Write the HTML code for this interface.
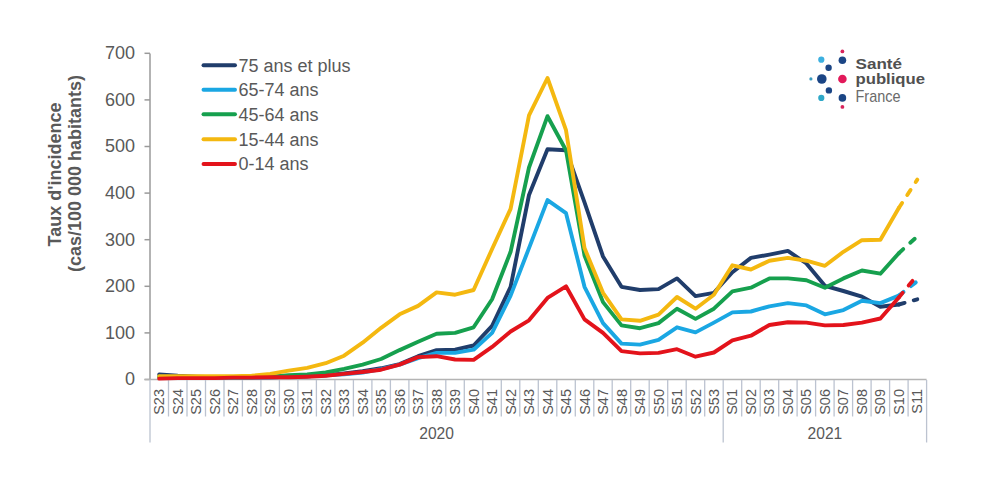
<!DOCTYPE html>
<html><head><meta charset="utf-8"><style>
html,body{margin:0;padding:0;background:#fff;width:1000px;height:480px;overflow:hidden}
svg{display:block}
text{font-family:"Liberation Sans",sans-serif}
</style></head><body>
<svg width="1000" height="480" viewBox="0 0 1000 480">
<rect width="1000" height="480" fill="#fff"/>

<line x1="150" y1="53.4" x2="150" y2="379.5" stroke="#9a9a9a" stroke-width="1.5"/>
<line x1="144.5" y1="379.5" x2="150" y2="379.5" stroke="#9a9a9a" stroke-width="1.5"/>
<text x="135" y="385.3" font-size="18" fill="#595959" text-anchor="end">0</text>
<line x1="144.5" y1="332.9" x2="150" y2="332.9" stroke="#9a9a9a" stroke-width="1.5"/>
<text x="135" y="338.7" font-size="18" fill="#595959" text-anchor="end">100</text>
<line x1="144.5" y1="286.3" x2="150" y2="286.3" stroke="#9a9a9a" stroke-width="1.5"/>
<text x="135" y="292.1" font-size="18" fill="#595959" text-anchor="end">200</text>
<line x1="144.5" y1="239.7" x2="150" y2="239.7" stroke="#9a9a9a" stroke-width="1.5"/>
<text x="135" y="245.5" font-size="18" fill="#595959" text-anchor="end">300</text>
<line x1="144.5" y1="193.1" x2="150" y2="193.1" stroke="#9a9a9a" stroke-width="1.5"/>
<text x="135" y="198.9" font-size="18" fill="#595959" text-anchor="end">400</text>
<line x1="144.5" y1="146.5" x2="150" y2="146.5" stroke="#9a9a9a" stroke-width="1.5"/>
<text x="135" y="152.3" font-size="18" fill="#595959" text-anchor="end">500</text>
<line x1="144.5" y1="99.9" x2="150" y2="99.9" stroke="#9a9a9a" stroke-width="1.5"/>
<text x="135" y="105.7" font-size="18" fill="#595959" text-anchor="end">600</text>
<line x1="144.5" y1="53.3" x2="150" y2="53.3" stroke="#9a9a9a" stroke-width="1.5"/>
<text x="135" y="59.1" font-size="18" fill="#595959" text-anchor="end">700</text>
<line x1="144.5" y1="379.5" x2="926.6" y2="379.5" stroke="#b4b4b4" stroke-width="1.5"/>
<line x1="150.0" y1="380" x2="150.0" y2="442.5" stroke="#bcc3d0" stroke-width="1.3"/>
<line x1="168.5" y1="380" x2="168.5" y2="416.5" stroke="#bcc3d0" stroke-width="1.3"/>
<line x1="187.0" y1="380" x2="187.0" y2="416.5" stroke="#bcc3d0" stroke-width="1.3"/>
<line x1="205.5" y1="380" x2="205.5" y2="416.5" stroke="#bcc3d0" stroke-width="1.3"/>
<line x1="224.0" y1="380" x2="224.0" y2="416.5" stroke="#bcc3d0" stroke-width="1.3"/>
<line x1="242.4" y1="380" x2="242.4" y2="416.5" stroke="#bcc3d0" stroke-width="1.3"/>
<line x1="260.9" y1="380" x2="260.9" y2="416.5" stroke="#bcc3d0" stroke-width="1.3"/>
<line x1="279.4" y1="380" x2="279.4" y2="416.5" stroke="#bcc3d0" stroke-width="1.3"/>
<line x1="297.9" y1="380" x2="297.9" y2="416.5" stroke="#bcc3d0" stroke-width="1.3"/>
<line x1="316.4" y1="380" x2="316.4" y2="416.5" stroke="#bcc3d0" stroke-width="1.3"/>
<line x1="334.9" y1="380" x2="334.9" y2="416.5" stroke="#bcc3d0" stroke-width="1.3"/>
<line x1="353.4" y1="380" x2="353.4" y2="416.5" stroke="#bcc3d0" stroke-width="1.3"/>
<line x1="371.9" y1="380" x2="371.9" y2="416.5" stroke="#bcc3d0" stroke-width="1.3"/>
<line x1="390.4" y1="380" x2="390.4" y2="416.5" stroke="#bcc3d0" stroke-width="1.3"/>
<line x1="408.9" y1="380" x2="408.9" y2="416.5" stroke="#bcc3d0" stroke-width="1.3"/>
<line x1="427.3" y1="380" x2="427.3" y2="416.5" stroke="#bcc3d0" stroke-width="1.3"/>
<line x1="445.8" y1="380" x2="445.8" y2="416.5" stroke="#bcc3d0" stroke-width="1.3"/>
<line x1="464.3" y1="380" x2="464.3" y2="416.5" stroke="#bcc3d0" stroke-width="1.3"/>
<line x1="482.8" y1="380" x2="482.8" y2="416.5" stroke="#bcc3d0" stroke-width="1.3"/>
<line x1="501.3" y1="380" x2="501.3" y2="416.5" stroke="#bcc3d0" stroke-width="1.3"/>
<line x1="519.8" y1="380" x2="519.8" y2="416.5" stroke="#bcc3d0" stroke-width="1.3"/>
<line x1="538.3" y1="380" x2="538.3" y2="416.5" stroke="#bcc3d0" stroke-width="1.3"/>
<line x1="556.8" y1="380" x2="556.8" y2="416.5" stroke="#bcc3d0" stroke-width="1.3"/>
<line x1="575.3" y1="380" x2="575.3" y2="416.5" stroke="#bcc3d0" stroke-width="1.3"/>
<line x1="593.8" y1="380" x2="593.8" y2="416.5" stroke="#bcc3d0" stroke-width="1.3"/>
<line x1="612.2" y1="380" x2="612.2" y2="416.5" stroke="#bcc3d0" stroke-width="1.3"/>
<line x1="630.7" y1="380" x2="630.7" y2="416.5" stroke="#bcc3d0" stroke-width="1.3"/>
<line x1="649.2" y1="380" x2="649.2" y2="416.5" stroke="#bcc3d0" stroke-width="1.3"/>
<line x1="667.7" y1="380" x2="667.7" y2="416.5" stroke="#bcc3d0" stroke-width="1.3"/>
<line x1="686.2" y1="380" x2="686.2" y2="416.5" stroke="#bcc3d0" stroke-width="1.3"/>
<line x1="704.7" y1="380" x2="704.7" y2="416.5" stroke="#bcc3d0" stroke-width="1.3"/>
<line x1="723.2" y1="380" x2="723.2" y2="442.5" stroke="#bcc3d0" stroke-width="1.3"/>
<line x1="741.7" y1="380" x2="741.7" y2="416.5" stroke="#bcc3d0" stroke-width="1.3"/>
<line x1="760.2" y1="380" x2="760.2" y2="416.5" stroke="#bcc3d0" stroke-width="1.3"/>
<line x1="778.7" y1="380" x2="778.7" y2="416.5" stroke="#bcc3d0" stroke-width="1.3"/>
<line x1="797.1" y1="380" x2="797.1" y2="416.5" stroke="#bcc3d0" stroke-width="1.3"/>
<line x1="815.6" y1="380" x2="815.6" y2="416.5" stroke="#bcc3d0" stroke-width="1.3"/>
<line x1="834.1" y1="380" x2="834.1" y2="416.5" stroke="#bcc3d0" stroke-width="1.3"/>
<line x1="852.6" y1="380" x2="852.6" y2="416.5" stroke="#bcc3d0" stroke-width="1.3"/>
<line x1="871.1" y1="380" x2="871.1" y2="416.5" stroke="#bcc3d0" stroke-width="1.3"/>
<line x1="889.6" y1="380" x2="889.6" y2="416.5" stroke="#bcc3d0" stroke-width="1.3"/>
<line x1="908.1" y1="380" x2="908.1" y2="416.5" stroke="#bcc3d0" stroke-width="1.3"/>
<line x1="926.6" y1="380" x2="926.6" y2="442.5" stroke="#bcc3d0" stroke-width="1.3"/>
<text transform="translate(164.2,389) rotate(-90)" font-size="14.5" fill="#595959" text-anchor="end">S23</text>
<text transform="translate(182.7,389) rotate(-90)" font-size="14.5" fill="#595959" text-anchor="end">S24</text>
<text transform="translate(201.2,389) rotate(-90)" font-size="14.5" fill="#595959" text-anchor="end">S25</text>
<text transform="translate(219.7,389) rotate(-90)" font-size="14.5" fill="#595959" text-anchor="end">S26</text>
<text transform="translate(238.2,389) rotate(-90)" font-size="14.5" fill="#595959" text-anchor="end">S27</text>
<text transform="translate(256.7,389) rotate(-90)" font-size="14.5" fill="#595959" text-anchor="end">S28</text>
<text transform="translate(275.2,389) rotate(-90)" font-size="14.5" fill="#595959" text-anchor="end">S29</text>
<text transform="translate(293.7,389) rotate(-90)" font-size="14.5" fill="#595959" text-anchor="end">S30</text>
<text transform="translate(312.2,389) rotate(-90)" font-size="14.5" fill="#595959" text-anchor="end">S31</text>
<text transform="translate(330.7,389) rotate(-90)" font-size="14.5" fill="#595959" text-anchor="end">S32</text>
<text transform="translate(349.1,389) rotate(-90)" font-size="14.5" fill="#595959" text-anchor="end">S33</text>
<text transform="translate(367.6,389) rotate(-90)" font-size="14.5" fill="#595959" text-anchor="end">S34</text>
<text transform="translate(386.1,389) rotate(-90)" font-size="14.5" fill="#595959" text-anchor="end">S35</text>
<text transform="translate(404.6,389) rotate(-90)" font-size="14.5" fill="#595959" text-anchor="end">S36</text>
<text transform="translate(423.1,389) rotate(-90)" font-size="14.5" fill="#595959" text-anchor="end">S37</text>
<text transform="translate(441.6,389) rotate(-90)" font-size="14.5" fill="#595959" text-anchor="end">S38</text>
<text transform="translate(460.1,389) rotate(-90)" font-size="14.5" fill="#595959" text-anchor="end">S39</text>
<text transform="translate(478.6,389) rotate(-90)" font-size="14.5" fill="#595959" text-anchor="end">S40</text>
<text transform="translate(497.1,389) rotate(-90)" font-size="14.5" fill="#595959" text-anchor="end">S41</text>
<text transform="translate(515.6,389) rotate(-90)" font-size="14.5" fill="#595959" text-anchor="end">S42</text>
<text transform="translate(534.0,389) rotate(-90)" font-size="14.5" fill="#595959" text-anchor="end">S43</text>
<text transform="translate(552.5,389) rotate(-90)" font-size="14.5" fill="#595959" text-anchor="end">S44</text>
<text transform="translate(571.0,389) rotate(-90)" font-size="14.5" fill="#595959" text-anchor="end">S45</text>
<text transform="translate(589.5,389) rotate(-90)" font-size="14.5" fill="#595959" text-anchor="end">S46</text>
<text transform="translate(608.0,389) rotate(-90)" font-size="14.5" fill="#595959" text-anchor="end">S47</text>
<text transform="translate(626.5,389) rotate(-90)" font-size="14.5" fill="#595959" text-anchor="end">S48</text>
<text transform="translate(645.0,389) rotate(-90)" font-size="14.5" fill="#595959" text-anchor="end">S49</text>
<text transform="translate(663.5,389) rotate(-90)" font-size="14.5" fill="#595959" text-anchor="end">S50</text>
<text transform="translate(682.0,389) rotate(-90)" font-size="14.5" fill="#595959" text-anchor="end">S51</text>
<text transform="translate(700.5,389) rotate(-90)" font-size="14.5" fill="#595959" text-anchor="end">S52</text>
<text transform="translate(718.9,389) rotate(-90)" font-size="14.5" fill="#595959" text-anchor="end">S53</text>
<text transform="translate(737.4,389) rotate(-90)" font-size="14.5" fill="#595959" text-anchor="end">S01</text>
<text transform="translate(755.9,389) rotate(-90)" font-size="14.5" fill="#595959" text-anchor="end">S02</text>
<text transform="translate(774.4,389) rotate(-90)" font-size="14.5" fill="#595959" text-anchor="end">S03</text>
<text transform="translate(792.9,389) rotate(-90)" font-size="14.5" fill="#595959" text-anchor="end">S04</text>
<text transform="translate(811.4,389) rotate(-90)" font-size="14.5" fill="#595959" text-anchor="end">S05</text>
<text transform="translate(829.9,389) rotate(-90)" font-size="14.5" fill="#595959" text-anchor="end">S06</text>
<text transform="translate(848.4,389) rotate(-90)" font-size="14.5" fill="#595959" text-anchor="end">S07</text>
<text transform="translate(866.9,389) rotate(-90)" font-size="14.5" fill="#595959" text-anchor="end">S08</text>
<text transform="translate(885.4,389) rotate(-90)" font-size="14.5" fill="#595959" text-anchor="end">S09</text>
<text transform="translate(903.8,389) rotate(-90)" font-size="14.5" fill="#595959" text-anchor="end">S10</text>
<text transform="translate(922.3,389) rotate(-90)" font-size="14.5" fill="#595959" text-anchor="end">S11</text>
<text x="436.6" y="439.2" font-size="15.6" fill="#595959" text-anchor="middle">2020</text>
<text x="824.9" y="439.2" font-size="15.6" fill="#595959" text-anchor="middle">2021</text>
<text transform="translate(60.5,174.5) rotate(-90)" font-size="18" font-weight="bold" fill="#595959" text-anchor="middle">Taux d'incidence</text>
<text transform="translate(80.5,173.5) rotate(-90)" font-size="18" font-weight="bold" fill="#595959" text-anchor="middle">(cas/100 000 habitants)</text>
<polyline points="159.2,374.4 177.7,375.8 196.2,376.7 214.7,377.2 233.2,377.2 251.7,377.2 270.2,377.2 288.7,376.7 307.2,376.2 325.7,375.3 344.1,373.4 362.6,371.1 381.1,368.3 399.6,364.1 418.1,356.2 436.6,350.1 455.1,349.7 473.6,345.5 492.1,325.9 510.6,286.8 529.0,195.0 547.5,149.3 566.0,150.2 584.5,202.4 603.0,256.5 621.5,286.8 640.0,290.0 658.5,289.1 677.0,278.4 695.5,296.1 713.9,292.8 732.4,272.3 750.9,257.9 769.4,254.6 787.9,250.9 806.4,263.5 824.9,285.8 843.4,291.0 861.9,296.6 880.4,306.8 898.8,304.5" fill="none" stroke="#203D6B" stroke-width="3.9" stroke-linejoin="round" stroke-linecap="round"/>
<line x1="898.8" y1="304.5" x2="917.3" y2="299.3" stroke="#203D6B" stroke-width="3.9" stroke-linecap="round" stroke-dasharray="6 9.5"/>
<polyline points="159.2,376.7 177.7,377.6 196.2,377.6 214.7,377.6 233.2,377.6 251.7,377.6 270.2,377.2 288.7,376.7 307.2,376.2 325.7,375.3 344.1,374.4 362.6,372.5 381.1,369.2 399.6,364.6 418.1,358.1 436.6,352.9 455.1,352.9 473.6,349.7 492.1,332.9 510.6,295.6 529.0,248.1 547.5,200.1 566.0,213.1 584.5,286.8 603.0,323.1 621.5,343.6 640.0,344.6 658.5,339.9 677.0,327.3 695.5,332.4 713.9,322.6 732.4,312.4 750.9,311.5 769.4,306.3 787.9,303.1 806.4,305.4 824.9,314.3 843.4,310.1 861.9,300.7 880.4,303.1 898.8,295.6" fill="none" stroke="#1AA7E3" stroke-width="3.9" stroke-linejoin="round" stroke-linecap="round"/>
<line x1="898.8" y1="295.6" x2="917.3" y2="281.2" stroke="#1AA7E3" stroke-width="3.9" stroke-linecap="round" stroke-dasharray="6 9.5"/>
<polyline points="159.2,377.2 177.7,377.2 196.2,377.2 214.7,377.2 233.2,377.2 251.7,377.2 270.2,376.7 288.7,375.3 307.2,374.4 325.7,372.5 344.1,368.8 362.6,364.6 381.1,359.0 399.6,350.1 418.1,341.8 436.6,333.8 455.1,332.9 473.6,327.3 492.1,299.3 510.6,251.8 529.0,167.5 547.5,116.2 566.0,150.2 584.5,255.5 603.0,302.1 621.5,325.4 640.0,328.2 658.5,323.1 677.0,308.7 695.5,318.9 713.9,308.7 732.4,291.4 750.9,287.7 769.4,278.4 787.9,278.4 806.4,280.2 824.9,287.7 843.4,278.4 861.9,270.5 880.4,273.7 898.8,253.2" fill="none" stroke="#16A04E" stroke-width="3.9" stroke-linejoin="round" stroke-linecap="round"/>
<line x1="898.8" y1="253.2" x2="917.3" y2="236.4" stroke="#16A04E" stroke-width="3.9" stroke-linecap="round" stroke-dasharray="6 9.5"/>
<polyline points="159.2,376.2 177.7,376.2 196.2,376.2 214.7,376.2 233.2,376.2 251.7,375.8 270.2,373.9 288.7,370.6 307.2,367.9 325.7,363.2 344.1,355.7 362.6,342.7 381.1,327.8 399.6,314.3 418.1,305.9 436.6,292.4 455.1,294.7 473.6,290.0 492.1,249.0 510.6,208.9 529.0,115.3 547.5,78.0 566.0,130.2 584.5,248.1 603.0,292.8 621.5,319.4 640.0,320.8 658.5,314.7 677.0,297.0 695.5,308.7 713.9,294.7 732.4,265.3 750.9,269.5 769.4,260.7 787.9,257.9 806.4,260.7 824.9,265.8 843.4,251.8 861.9,240.2 880.4,239.7 898.8,208.0" fill="none" stroke="#F4B810" stroke-width="3.9" stroke-linejoin="round" stroke-linecap="round"/>
<line x1="898.8" y1="208.0" x2="917.3" y2="179.6" stroke="#F4B810" stroke-width="3.9" stroke-linecap="round" stroke-dasharray="6 9.5"/>
<polyline points="159.2,378.6 177.7,378.1 196.2,378.1 214.7,378.1 233.2,377.6 251.7,377.6 270.2,377.2 288.7,377.2 307.2,376.7 325.7,375.8 344.1,373.9 362.6,372.0 381.1,369.7 399.6,364.6 418.1,357.1 436.6,356.2 455.1,359.5 473.6,359.9 492.1,346.9 510.6,331.5 529.0,320.3 547.5,297.9 566.0,286.3 584.5,319.4 603.0,332.9 621.5,351.1 640.0,353.4 658.5,352.9 677.0,349.2 695.5,356.7 713.9,352.5 732.4,340.4 750.9,335.7 769.4,325.0 787.9,322.2 806.4,322.6 824.9,325.4 843.4,325.0 861.9,322.6 880.4,318.5 898.8,297.5" fill="none" stroke="#E3131B" stroke-width="3.9" stroke-linejoin="round" stroke-linecap="round"/>
<line x1="898.8" y1="297.5" x2="917.3" y2="275.1" stroke="#E3131B" stroke-width="3.9" stroke-linecap="round" stroke-dasharray="6 9.5"/>
<line x1="203.5" y1="65.2" x2="235" y2="65.2" stroke="#203D6B" stroke-width="3.9" stroke-linecap="round"/>
<text x="238.5" y="71.6" font-size="18" fill="#595959">75 ans et plus</text>
<line x1="203.5" y1="89.7" x2="235" y2="89.7" stroke="#1AA7E3" stroke-width="3.9" stroke-linecap="round"/>
<text x="238.5" y="96.1" font-size="18" fill="#595959">65-74 ans</text>
<line x1="203.5" y1="114.2" x2="235" y2="114.2" stroke="#16A04E" stroke-width="3.9" stroke-linecap="round"/>
<text x="238.5" y="120.6" font-size="18" fill="#595959">45-64 ans</text>
<line x1="203.5" y1="139.2" x2="235" y2="139.2" stroke="#F4B810" stroke-width="3.9" stroke-linecap="round"/>
<text x="238.5" y="145.6" font-size="18" fill="#595959">15-44 ans</text>
<line x1="203.5" y1="164.0" x2="235" y2="164.0" stroke="#E3131B" stroke-width="3.9" stroke-linecap="round"/>
<text x="238.5" y="170.4" font-size="18" fill="#595959">0-14 ans</text>
<circle cx="842.4" cy="51.4" r="1.9" fill="#D8245C"/>
<circle cx="821.3" cy="59.7" r="3.1" fill="#3CB0E0"/>
<circle cx="842.4" cy="60.2" r="3.8" fill="#1B4585"/>
<circle cx="828.6" cy="67.7" r="3.2" fill="#1B4585"/>
<circle cx="810.9" cy="78.9" r="1.6" fill="#3A9CC0"/>
<circle cx="821.8" cy="79.0" r="4.8" fill="#1B4585"/>
<circle cx="842.4" cy="79.0" r="4.3" fill="#E2195A"/>
<circle cx="828.9" cy="90.4" r="3.2" fill="#1B4585"/>
<circle cx="821.3" cy="97.9" r="3.1" fill="#2EA8C8"/>
<circle cx="842.4" cy="97.9" r="3.8" fill="#1B4585"/>
<circle cx="842.4" cy="106.9" r="1.9" fill="#D8245C"/>
<text x="855.5" y="69" font-size="15.5" font-weight="bold" fill="#505050" textLength="46.5" lengthAdjust="spacingAndGlyphs">Santé</text>
<text x="855.5" y="83.8" font-size="15.5" font-weight="bold" fill="#505050" textLength="69.5" lengthAdjust="spacingAndGlyphs">publique</text>
<text x="855.5" y="101.5" font-size="17" fill="#6a6a6a" textLength="45" lengthAdjust="spacingAndGlyphs">France</text>
</svg>
</body></html>
